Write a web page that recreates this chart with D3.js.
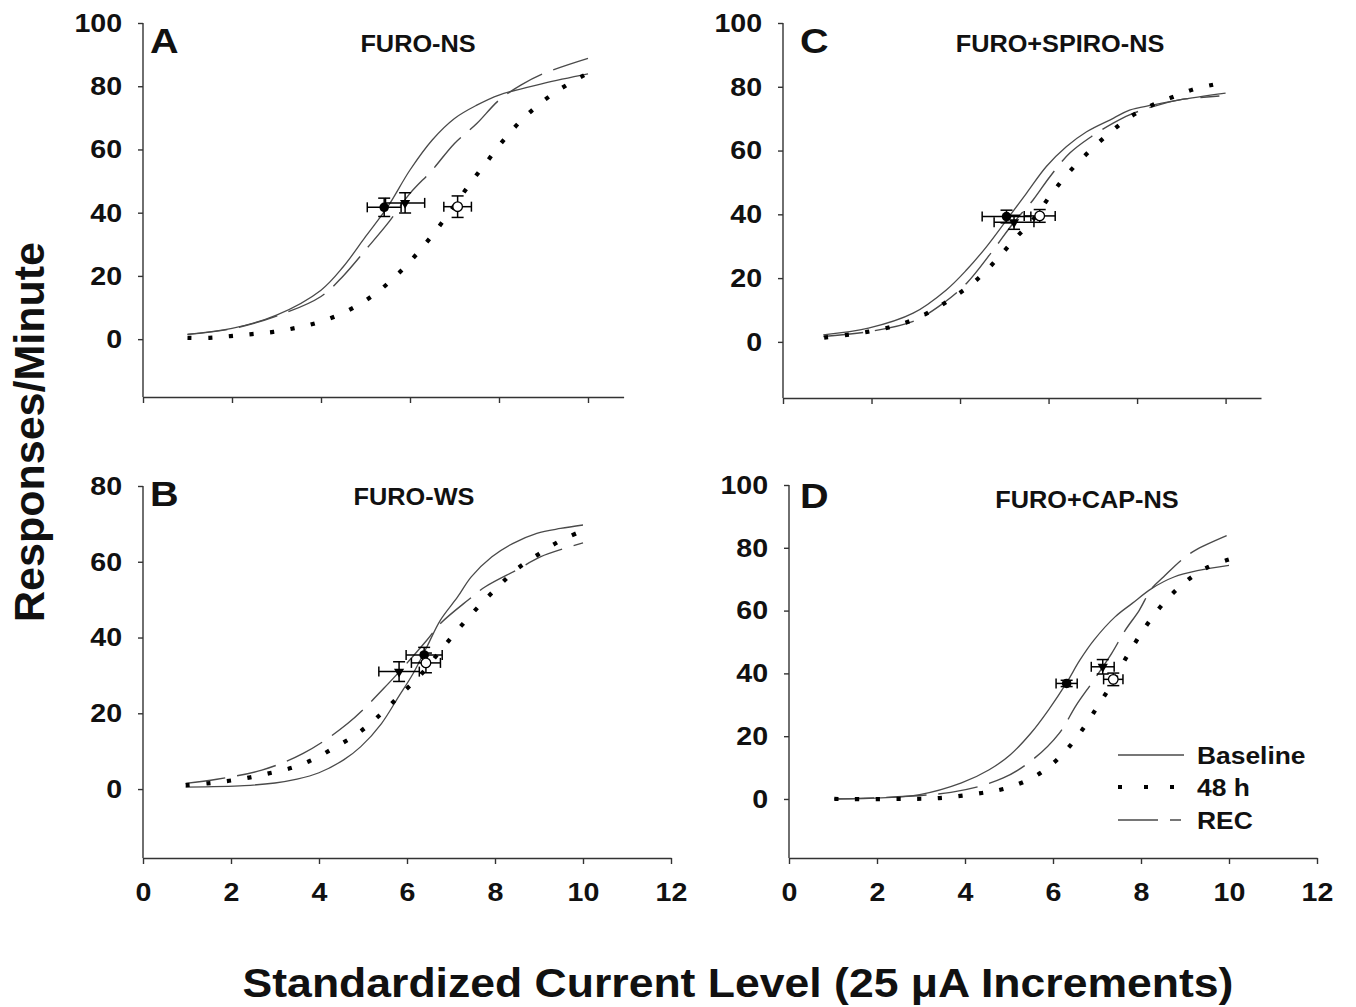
<!DOCTYPE html>
<html>
<head>
<meta charset="utf-8">
<script src="https://cdn.jsdelivr.net/npm/d3@7"></script>
<style>
  body { margin: 0; background: #fff; }
  text { font-family: "Liberation Sans", Arial, sans-serif; font-weight: bold; fill: #111; }
</style>
</head>
<body>
<svg id="chart" width="1356" height="1007"></svg>
<script>
// ---------------- data ----------------
// x = standardized current level, y = responses/minute

// Panel A  FURO-NS
const aBaseX = [1, 2, 3, 4, 4.5, 5, 5.5, 6, 6.5, 7, 7.5, 8, 9, 10];
const aBaseY = [1.5, 3.4, 7.6, 15.5, 22.9, 32.4, 41.9, 53.5, 63, 69.8, 74, 77.2, 80.9, 83.9];
const aH48X = [1, 1.49, 1.96, 2.45, 2.93, 3.41, 3.89, 4.37, 4.86, 5.34, 5.82, 6.26, 6.64, 7.0, 7.35, 7.71, 8.1, 8.53, 9.02, 9.51, 9.97];
const aH48Y = [0.4, 0.4, 0.95, 1.6, 2.3, 3.5, 5.1, 7.5, 11.0, 15.7, 21.9, 28.7, 35.4, 42.3, 49.2, 55.8, 62.9, 69.6, 75.6, 80.3, 83.9];
const aRecX = [1, 2, 3, 4, 4.5, 5, 5.5, 6, 6.5, 7, 7.5, 8, 8.5, 9, 10];
const aRecY = [1.5, 3.3, 7.3, 13.5, 20.0, 28.2, 36.6, 46.1, 53.5, 61.9, 68.2, 75.6, 80.4, 84, 88.8];

// Panel B  FURO-WS
const bBaseX = [0.97, 2.3, 3.0, 3.5, 4.0, 4.56, 4.95, 5.42, 5.81, 6.14, 6.45, 6.76, 7.15, 7.46, 7.93, 8.4, 8.95, 9.49, 10];
const bBaseY = [0.5, 0.9, 1.6, 2.6, 4.3, 7.7, 11.2, 17.3, 24.4, 30.5, 37.5, 44.6, 50.7, 56.0, 61.3, 64.8, 67.5, 68.8, 69.7];
const bH48X = [0.97, 1.46, 1.96, 2.44, 2.92, 3.41, 3.9, 4.36, 4.86, 5.34, 5.82, 6.32, 6.71, 7.1, 7.54, 7.99, 8.49, 8.99, 9.46, 9.95];
const bH48Y = [1.05, 1.5, 2.2, 3.1, 4.3, 5.7, 8.0, 11.0, 14.5, 19.1, 24.5, 30.3, 35.8, 41.3, 47.1, 52.5, 58.0, 62.0, 65.4, 68.0];
const bRecX = [0.97, 1.68, 2.7, 3.64, 4.65, 5.58, 6.45, 6.76, 7.39, 7.78, 8.52, 9.03, 10];
const bRecY = [1.5, 2.6, 5.0, 9.4, 17.3, 27.9, 39.3, 43.7, 49.9, 53.4, 58.0, 61.3, 65.0];

// Panel C  FURO+SPIRO-NS
const cBaseX = [0.91, 1.93, 2.94, 3.69, 4.15, 4.6, 5.05, 5.5, 5.95, 6.4, 6.86, 7.46, 7.83, 8.36, 8.96, 10];
const cBaseY = [2.2, 4.3, 9.0, 16.3, 22.6, 29.9, 38.2, 46.6, 55.0, 61.2, 65.9, 70.1, 72.7, 74.3, 75.9, 78.0];
const cH48X = [0.93, 1.44, 1.93, 2.42, 2.9, 3.37, 3.84, 4.33, 4.82, 5.25, 5.64, 6.04, 6.43, 6.88, 7.37, 7.85, 8.35, 8.83, 9.3, 9.77];
const cH48Y = [1.35, 2.2, 3.2, 4.6, 6.7, 9.8, 13.9, 18.9, 25.7, 32.5, 38.2, 45.9, 52.7, 59.2, 65.4, 70.6, 74.3, 76.9, 79.3, 80.8];
const cRecX = [0.91, 1.93, 2.94, 3.62, 4.15, 4.75, 5.2, 5.65, 6.03, 6.48, 6.97, 7.46, 7.83, 8.36, 8.96, 9.86];
const cRecY = [1.7, 3.2, 6.4, 12.1, 18.4, 28.8, 37.2, 44.5, 51.8, 59.2, 64.4, 68.6, 71.2, 73.8, 75.9, 77.1];

// Panel D  FURO+CAP-NS
const dBaseX = [1.03, 2.97, 3.92, 4.55, 5.03, 5.5, 5.9, 6.3, 6.61, 6.93, 7.41, 7.8, 8.24, 8.75, 9.31, 10];
const dBaseY = [0, 1.4, 5.1, 9.3, 14.1, 21.0, 28.4, 36.8, 44.2, 50.6, 58.0, 62.3, 67.0, 70.7, 72.8, 74.4];
const dH48X = [1.03, 2.46, 3.42, 4.38, 4.87, 5.36, 5.84, 6.31, 6.69, 7.01, 7.31, 7.58, 7.87, 8.18, 8.57, 9.03, 9.53, 10];
const dH48Y = [0, 0, 0.3, 1.9, 3.2, 5.6, 9.5, 15.7, 22.5, 29.4, 36.0, 43.0, 49.8, 56.4, 63.3, 69.4, 73.9, 76.3];
const dRecX = [1.03, 3.68, 4.87, 5.58, 6.14, 6.53, 6.93, 7.33, 7.64, 7.96, 8.24, 8.51, 8.91, 9.23, 10];
const dRecY = [0, 2.1, 6.7, 13.0, 20.9, 29.9, 37.9, 46.3, 53.7, 60.1, 67.0, 70.7, 76.0, 79.2, 84.2];

// group means with SEM bars: [x, y, xErr, yErr] for Baseline, 48 h, REC
const aMeans = [[5.42, 41.7, 0.38, 2.9], [7.07, 41.9, 0.31, 3.4], [5.89, 43.1, 0.44, 3.2]];
const bMeans = [[6.39, 35.4, 0.41, 2.0], [6.43, 33.3, 0.33, 2.6], [5.82, 31.0, 0.46, 2.6]];
const cMeans = [[5.05, 39.3, 0.55, 2.0], [5.8, 39.5, 0.35, 2.0], [5.22, 37.5, 0.45, 2.2]];
const dMeans = [[6.31, 36.8, 0.24, 1.0], [7.37, 38.1, 0.22, 2.0], [7.13, 42.1, 0.26, 2.3]];

const seriesNames = ["Baseline", "48 h", "REC"];
const panelLetters = ["A", "B", "C", "D"];
const panelTitles = ["FURO-NS", "FURO-WS", "FURO+SPIRO-NS", "FURO+CAP-NS"];
const xTickVals = [0, 2, 4, 6, 8, 10, 12];
const yAxisTitle = "Responses/Minute";
const xAxisTitle = "Standardized Current Level (25 \u03bcA Increments)";

// ---------------- drawing ----------------
const svg = d3.select("#chart");
const STRETCH = 1.1;   // the original figure is a bit wide-set

const zip = (xs, ys) => xs.map((v, i) => [v, ys[i]]);

const panels = [
  { letter: panelLetters[0], title: panelTitles[0], xDom: [0, 10.8], xRange: [143, 623.6], yDom: [-18.3, 100], yRange: [397, 23],
    yTicks: [0, 20, 40, 60, 80, 100], xLabels: false, titleX: 418, titleY: 52, letterX: 150, letterY: 53,
    base: zip(aBaseX, aBaseY), h48: zip(aH48X, aH48Y), rec: zip(aRecX, aRecY), means: aMeans },
  { letter: panelLetters[1], title: panelTitles[1], xDom: [0, 12], xRange: [143, 671], yDom: [-18.2, 80], yRange: [858, 486],
    yTicks: [0, 20, 40, 60, 80], xLabels: true, titleX: 414, titleY: 505, letterX: 150, letterY: 506,
    base: zip(bBaseX, bBaseY), h48: zip(bH48X, bH48Y), rec: zip(bRecX, bRecY), means: bMeans },
  { letter: panelLetters[2], title: panelTitles[2], xDom: [0, 10.8], xRange: [783, 1261], yDom: [-17.6, 100], yRange: [398, 23],
    yTicks: [0, 20, 40, 60, 80, 100], xLabels: false, titleX: 1060, titleY: 52, letterX: 800, letterY: 53,
    base: zip(cBaseX, cBaseY), h48: zip(cH48X, cH48Y), rec: zip(cRecX, cRecY), means: cMeans },
  { letter: panelLetters[3], title: panelTitles[3], xDom: [0, 12], xRange: [789, 1317], yDom: [-18.8, 100], yRange: [858, 485],
    yTicks: [0, 20, 40, 60, 80, 100], xLabels: true, titleX: 1087, titleY: 508, letterX: 800, letterY: 508,
    base: zip(dBaseX, dBaseY), h48: zip(dH48X, dH48Y), rec: zip(dRecX, dRecY), means: dMeans }
];

function stretchedText(g, x, y, str, size, anchor) {
  return g.append("text")
    .attr("transform", `translate(${x},${y}) scale(${STRETCH},1)`)
    .attr("text-anchor", anchor || "start")
    .style("font-size", size + "px")
    .text(str);
}

const lineStyles = {
  base: { stroke: "#4a4a4a", width: 1.3, dash: null },
  h48:  { stroke: "#000",    width: 4.2, dash: "4.2 16.5" },
  rec:  { stroke: "#4a4a4a", width: 1.4, dash: "40 12" }
};

panels.forEach(p => {
  const x = d3.scaleLinear().domain(p.xDom).range(p.xRange);
  const y = d3.scaleLinear().domain(p.yDom).range(p.yRange);
  const g = svg.append("g");

  // axes
  const xAxis = d3.axisBottom(x)
    .tickValues(xTickVals.filter(v => v <= p.xDom[1]))
    .tickSize(6).tickSizeOuter(0).tickPadding(19)
    .tickFormat(p.xLabels ? d3.format("d") : () => "");
  const gx = g.append("g").attr("transform", `translate(0,${y(p.yDom[0])})`).call(xAxis);

  const yAxis = d3.axisLeft(y).tickValues(p.yTicks)
    .tickSize(5).tickSizeOuter(0).tickPadding(14);
  const gy = g.append("g").attr("transform", `translate(${x(0)},0)`).call(yAxis);
  // y axis line runs from the top tick down to the x axis
  gy.select(".domain").attr("d", `M0,${y(p.yTicks[p.yTicks.length - 1])}V${y(p.yDom[0])}`);

  [gx, gy].forEach(a => {
    a.selectAll(".domain, line").attr("stroke", "#333").attr("stroke-width", 1.4);
    a.selectAll("text")
      .attr("transform", `scale(${STRETCH},1)`)
      .style("font-size", "26px").style("font-weight", "bold").attr("fill", "#111");
  });

  // curves
  const line = d3.line().x(d => x(d[0])).y(d => y(d[1])).curve(d3.curveCatmullRom.alpha(0.5));
  ["base", "rec", "h48"].forEach(key => {
    const s = lineStyles[key];
    g.append("path").datum(p[key])
      .attr("d", line)
      .attr("fill", "none")
      .attr("stroke", s.stroke)
      .attr("stroke-width", s.width)
      .attr("stroke-dasharray", s.dash);
  });

  // means with error bars
  const cap = 5;
  const mg = g.append("g").attr("stroke", "#000").attr("stroke-width", 1.5);
  p.means.forEach(m => {
    const cx = x(m[0]), cy = y(m[1]);
    const x0 = x(m[0] - m[2]), x1 = x(m[0] + m[2]);
    const y0 = y(m[1] - m[3]), y1 = y(m[1] + m[3]);
    mg.append("line").attr("x1", x0).attr("x2", x1).attr("y1", cy).attr("y2", cy);
    mg.append("line").attr("x1", x0).attr("x2", x0).attr("y1", cy - cap).attr("y2", cy + cap);
    mg.append("line").attr("x1", x1).attr("x2", x1).attr("y1", cy - cap).attr("y2", cy + cap);
    mg.append("line").attr("x1", cx).attr("x2", cx).attr("y1", y0).attr("y2", y1);
    mg.append("line").attr("x1", cx - cap - 1).attr("x2", cx + cap + 1).attr("y1", y0).attr("y2", y0);
    mg.append("line").attr("x1", cx - cap - 1).attr("x2", cx + cap + 1).attr("y1", y1).attr("y2", y1);
  });
  p.means.forEach((m, i) => {
    const cx = x(m[0]), cy = y(m[1]);
    if (i === 0) {
      g.append("circle").attr("cx", cx).attr("cy", cy).attr("r", 4.8).attr("fill", "#000");
    } else if (i === 1) {
      g.append("circle").attr("cx", cx).attr("cy", cy).attr("r", 4.8)
        .attr("fill", "#fff").attr("stroke", "#000").attr("stroke-width", 1.3);
    } else {
      g.append("path").attr("d", d3.symbol(d3.symbolTriangle, 45)())
        .attr("transform", `translate(${cx},${cy}) rotate(180)`).attr("fill", "#000");
    }
  });

  // panel letter and title
  stretchedText(g, p.letterX, p.letterY, p.letter, 36, "start");
  stretchedText(g, p.titleX, p.titleY, p.title, 23, "middle");
});

// legend (inside panel D)
const legend = svg.append("g");
const legendRows = [
  { key: "base", y: 755, x1: 1184, dash: null },
  { key: "h48", y: 787, x1: 1174, dash: "4 22" },
  { key: "rec", y: 820, x1: 1181, dash: "40 12" }
];
legendRows.forEach((r, i) => {
  const s = lineStyles[r.key];
  legend.append("line")
    .attr("x1", 1118).attr("x2", r.x1).attr("y1", r.y).attr("y2", r.y)
    .attr("stroke", s.stroke).attr("stroke-width", s.width)
    .attr("stroke-dasharray", r.dash);
  stretchedText(legend, 1197, r.y + 9, seriesNames[i], 24, "start");
});

// axis titles
svg.append("text")
  .attr("transform", "translate(44,432) rotate(-90)")
  .attr("text-anchor", "middle")
  .style("font-size", "43px")
  .text(yAxisTitle);

stretchedText(svg, 738, 997, xAxisTitle, 40.5, "middle");
</script>
</body>
</html>
